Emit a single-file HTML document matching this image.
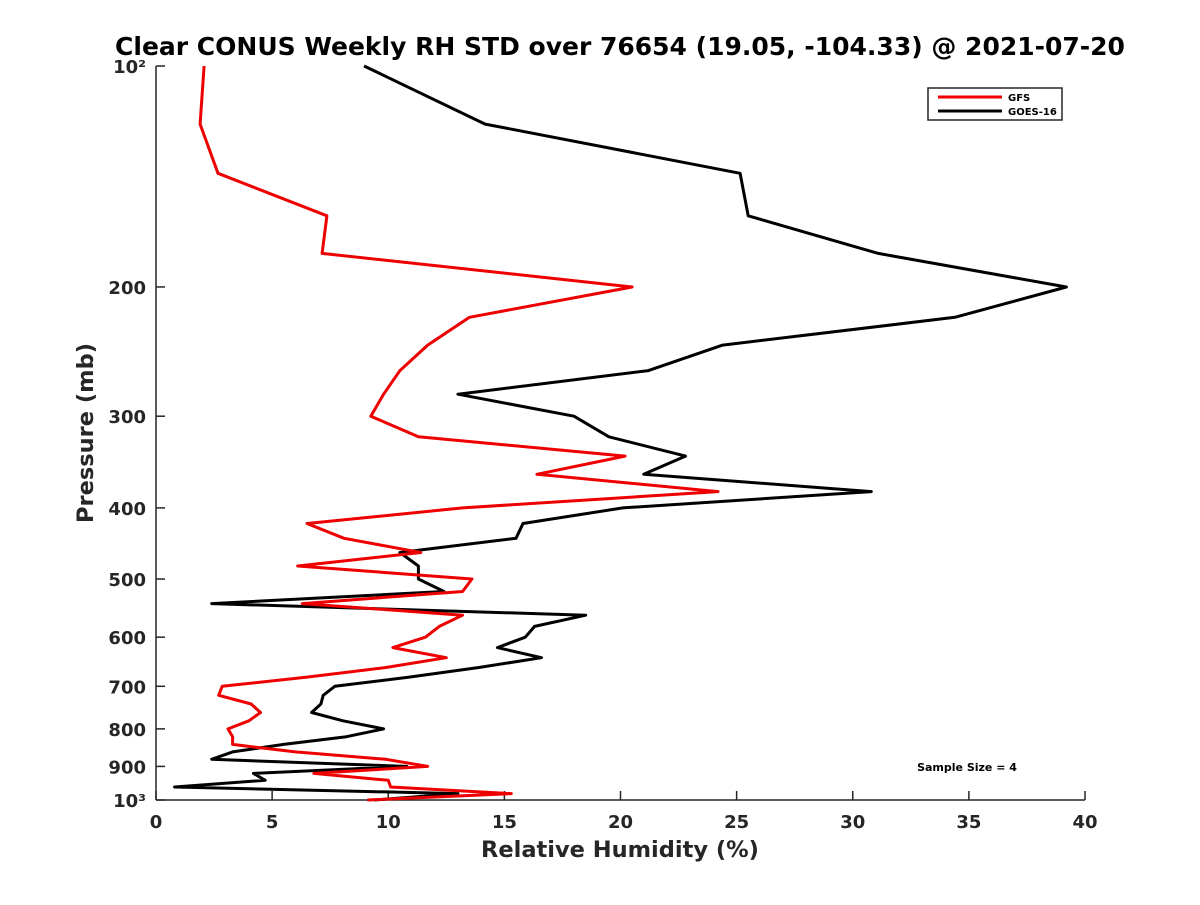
<!DOCTYPE html>
<html><head><meta charset="utf-8"><style>
body{margin:0;background:#fff;}
svg text{font-family:"DejaVu Sans","Liberation Sans",sans-serif;font-weight:bold;fill:#262626;}
</style></head><body>
<svg id="chart" width="1200" height="900" xmlns="http://www.w3.org/2000/svg">
<text x="620" y="55" text-anchor="middle" font-size="25" style="fill:#000">Clear CONUS Weekly RH STD over 76654 (19.05, -104.33) @ 2021-07-20</text>
<g id="axes"></g>
<g id="series"></g>
<text x="620" y="857" text-anchor="middle" font-size="22.5">Relative Humidity (%)</text>
<text transform="translate(93,433) rotate(-90)" text-anchor="middle" font-size="22.5">Pressure (mb)</text>
<text x="967" y="771" text-anchor="middle" font-size="11" style="fill:#000">Sample Size = 4</text>
<g>
<rect x="928" y="88" width="134" height="32" fill="#fff" stroke="#262626" stroke-width="1.5"/>
<line x1="938" y1="97" x2="1002" y2="97" stroke="#e00" stroke-width="3"/>
<text x="1008" y="101" font-size="10" style="fill:#000">GFS</text>
<line x1="938" y1="111" x2="1002" y2="111" stroke="#000" stroke-width="3"/>
<text x="1008" y="115" font-size="10" style="fill:#000">GOES-16</text>
</g>
</svg>
<script>
const pressures=[100,120,140,160,180,200,220,240,260,280,300,320,340,360,380,400,420,440,460,480,500,520,540,560,580,600,620,640,660,680,700,720,740,760,780,800,820,840,860,880,900,920,940,960,980,1000];
const goesValues=[8.96,14.17,25.15,25.5,31.1,39.2,34.4,24.4,21.2,13.0,18.0,19.5,22.8,21.0,30.8,20.1,15.8,15.5,10.5,11.3,11.3,12.4,2.4,18.5,16.3,15.9,14.7,16.6,13.9,10.9,7.7,7.2,7.1,6.7,8.05,9.8,8.2,5.5,3.3,2.4,10.8,4.2,4.7,0.8,13.0,9.4];
const gfsValues=[2.07,1.9,2.67,7.36,7.15,20.5,13.5,11.7,10.5,9.8,9.25,11.3,20.2,16.4,24.2,13.2,6.5,8.1,11.4,6.1,13.6,13.2,6.3,13.2,12.2,11.6,10.2,12.5,9.9,6.5,2.85,2.7,4.1,4.5,4.0,3.1,3.3,3.3,6.0,9.9,11.7,6.8,10.0,10.1,15.3,9.1];
const xTicks=[0,5,10,15,20,25,30,35,40];
const yTicks=[100,200,300,400,500,600,700,800,900,1000];
const yTickLabels=["10²","200","300","400","500","600","700","800","900","10³"];
const X0=156,X1=1085,Y0=66,Y1=800;
const xs=v=>X0+(v-0)/40*(X1-X0);
const ys=p=>Y0+(Math.log10(p)-2)*(Y1-Y0);
const NS="http://www.w3.org/2000/svg";
const axes=document.getElementById('axes');
function mk(tag,attrs,parent){const e=document.createElementNS(NS,tag);for(const k in attrs)e.setAttribute(k,attrs[k]);parent.appendChild(e);return e;}
const xa=mk('line',{x1:X0,y1:Y1,x2:X1,y2:Y1,stroke:'#262626','stroke-width':1.5},axes);


const ya=mk('line',{x1:X0,y1:Y0,x2:X0,y2:Y1,stroke:'#262626','stroke-width':1.5},axes);


xTicks.forEach(v=>{
  const x=xs(v);
  mk('line',{x1:x,y1:Y1,x2:x,y2:Y1-9,stroke:'#262626','stroke-width':1.5},axes);
  const t=mk('text',{x:x,y:Y1+28,'text-anchor':'middle','font-size':18},axes);
  t.textContent=v;
  
  
});
yTicks.forEach((p,i)=>{
  const y=ys(p);
  mk('line',{x1:X0,y1:y,x2:X0+9,y2:y,stroke:'#262626','stroke-width':1.5},axes);
  const t=mk('text',{x:X0-10,y:y+7,'text-anchor':'end','font-size':18},axes);
  t.textContent=yTickLabels[i];
  
  
});
const series=document.getElementById('series');
function draw(vals,color,name){
  const pts=vals.map((v,i)=>xs(v).toFixed(1)+','+ys(pressures[i]).toFixed(1)).join(' ');
  const pl=mk('polyline',{points:pts,fill:'none',stroke:color,'stroke-width':3,'stroke-linejoin':'round'},series);
  
  
}
draw(goesValues,'#000','goes16-line');
draw(gfsValues,'#e00','gfs-line');
</script>
</body></html>
